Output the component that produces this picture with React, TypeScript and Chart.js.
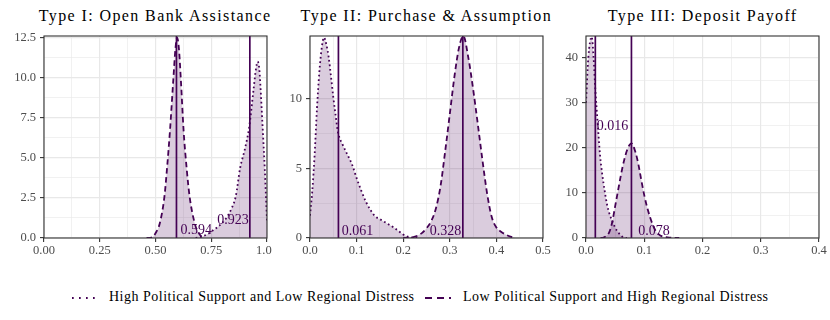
import React, { useEffect, useRef } from "react";
import { Chart, registerables } from "chart.js";
Chart.register(...registerables);

const PURPLE = "#440154";
const FILL = "rgba(68,1,84,0.2)";
const SERIF = "'Liberation Serif', 'Times New Roman', serif";

const titles = [
  "Type I: Open Bank Assistance",
  "Type II: Purchase & Assumption",
  "Type III: Deposit Payoff",
];
const legendLabels = [
  "High Political Support and Low Regional Distress",
  "Low Political Support and High Regional Distress",
];

// ---------- Panel I ----------
const p1HighX = [0.68, 0.70, 0.72, 0.74, 0.76, 0.78, 0.80, 0.82, 0.84, 0.86, 0.88, 0.90, 0.92, 0.94, 0.95, 0.958, 0.965, 0.97, 0.98, 0.99, 1.0];
const p1HighY = [0, 0.05, 0.15, 0.3, 0.5, 0.7, 0.95, 1.3, 1.8, 2.6, 4.4, 5.5, 6.9, 9.3, 10.5, 11.0, 10.6, 9.6, 7.0, 4.3, 1.1];
const p1LowX = [0.46, 0.485, 0.50, 0.519, 0.540, 0.552, 0.565, 0.580, 0.590, 0.597, 0.605, 0.614, 0.626, 0.640, 0.653, 0.676, 0.69, 0.709, 0.72];
const p1LowY = [0, 0.05, 0.3, 0.91, 2.58, 4.4, 6.7, 9.9, 11.9, 12.5, 11.8, 9.8, 6.7, 4.3, 2.58, 0.91, 0.4, 0.05, 0];
const p1Means = [0.594, 0.923];
const p1MeanText = ["0.594", "0.923"];
const p1LabelX = [0.683, 0.847];
const p1LabelY = [0.45, 1.12];

// ---------- Panel II ----------
const p2HighX = [0.0, 0.005, 0.01, 0.015, 0.02, 0.025, 0.03, 0.035, 0.04, 0.045, 0.05, 0.055, 0.06, 0.07, 0.08, 0.09, 0.10, 0.11, 0.12, 0.13, 0.14, 0.15, 0.16, 0.17, 0.18, 0.19, 0.20, 0.21, 0.22, 0.23];
const p2HighY = [1.6, 3.4, 6.0, 9.3, 11.9, 13.6, 14.4, 13.9, 13.0, 11.6, 10.1, 8.8, 7.6, 6.7, 6.0, 5.3, 4.3, 3.4, 2.6, 2.0, 1.55, 1.35, 1.15, 0.95, 0.75, 0.5, 0.25, 0.1, 0.03, 0];
const p2LowX = [0.20, 0.22, 0.24, 0.25, 0.26, 0.27, 0.28, 0.29, 0.30, 0.31, 0.32, 0.329, 0.34, 0.35, 0.36, 0.37, 0.38, 0.39, 0.40, 0.41, 0.42, 0.43, 0.44];
const p2LowY = [0, 0.05, 0.35, 0.7, 1.2, 2.1, 3.7, 6.2, 8.9, 11.6, 13.7, 14.5, 12.9, 10.7, 8.2, 5.6, 3.2, 1.5, 0.75, 0.45, 0.25, 0.1, 0];
const p2Means = [0.061, 0.328];
const p2MeanText = ["0.061", "0.328"];
const p2LabelX = [0.102, 0.291];
const p2LabelY = [0.5, 0.5];

// ---------- Panel III ----------
const p3HighX = [0.0, 0.004, 0.0098, 0.013, 0.016, 0.020, 0.024, 0.028, 0.032, 0.036, 0.040, 0.045, 0.050, 0.055, 0.060, 0.065, 0.070];
const p3HighY = [30, 40, 44.6, 40, 33, 25.5, 18.5, 14, 10.5, 7.5, 5.5, 3.8, 2.3, 1.3, 0.5, 0.15, 0];
const p3LowX = [0.025, 0.030, 0.035, 0.040, 0.045, 0.050, 0.055, 0.060, 0.065, 0.070, 0.075, 0.078, 0.085, 0.090, 0.095, 0.100, 0.105, 0.110, 0.115, 0.120, 0.125, 0.130, 0.140, 0.150, 0.160];
const p3LowY = [0, 0.1, 0.5, 1.3, 3.5, 7.0, 10.5, 14.0, 17.0, 19.3, 20.7, 21.0, 19.0, 16.3, 12.8, 9.5, 6.8, 4.6, 2.8, 1.5, 0.8, 0.4, 0.15, 0.05, 0];
const p3Means = [0.016, 0.078];
const p3MeanText = ["0.016", "0.078"];
const p3LabelX = [0.0457, 0.1166];
const p3LabelY = [24.7, 1.5];

// axis settings (range, major step, decimals)
const xMaxes = [1.0, 0.5, 0.4];
const xSteps = [0.25, 0.1, 0.1];
const xDecimals = [2, 1, 1];
const yMaxes = [12.6, 14.5, 44.8];
const ySteps = [2.5, 5, 10];
const yDecimals = [1, 0, 0];

const panels = [
  { highX: p1HighX, highY: p1HighY, lowX: p1LowX, lowY: p1LowY, means: p1Means, text: p1MeanText, lx: p1LabelX, ly: p1LabelY },
  { highX: p2HighX, highY: p2HighY, lowX: p2LowX, lowY: p2LowY, means: p2Means, text: p2MeanText, lx: p2LabelX, ly: p2LabelY },
  { highX: p3HighX, highY: p3HighY, lowX: p3LowX, lowY: p3LowY, means: p3Means, text: p3MeanText, lx: p3LabelX, ly: p3LabelY },
];

// layout (pixels)
const layout = [
  { left: 0, width: 272, yAxisW: 44, padR: 5 },
  { left: 272, width: 285, yAxisW: 38, padR: 14 },
  { left: 547, width: 283, yAxisW: 39, padR: 11 },
];
const CANVAS_TOP = 24;
const CANVAS_H = 236;
const PAD_TOP = 12;
const XAXIS_H = 22;

function zip(xs: number[], ys: number[]) {
  return xs.map((x, i) => ({ x, y: ys[i] }));
}

function Panel({ idx }: { idx: number }) {
  const ref = useRef<HTMLCanvasElement | null>(null);
  const L = layout[idx];
  useEffect(() => {
    const p = panels[idx];
    const yMax = yMaxes[idx];
    const meanSets = p.means.map((m) => ({
      data: [
        { x: m, y: 0 },
        { x: m, y: yMax },
      ],
      borderColor: PURPLE,
      borderWidth: 1.7,
      fill: false,
      pointRadius: 0,
    }));
    const overlay = {
      id: "overlay" + idx,
      afterDraw(chart: any) {
        const { ctx, chartArea: a } = chart;
        const xs = chart.scales.x;
        const ys = chart.scales.y;
        ctx.save();
        ctx.font = `14px ${SERIF}`;
        ctx.fillStyle = PURPLE;
        ctx.textAlign = "center";
        ctx.textBaseline = "middle";
        p.text.forEach((t, i) => {
          ctx.fillText(t, xs.getPixelForValue(p.lx[i]), ys.getPixelForValue(p.ly[i]));
        });
        ctx.strokeStyle = "#333333";
        ctx.lineWidth = 1.1;
        ctx.strokeRect(a.left, a.top, a.right - a.left, a.bottom - a.top);
        ctx.restore();
      },
    };
    const tickFont = { family: SERIF, size: 12.5 };
    const chart = new Chart(ref.current as HTMLCanvasElement, {
      type: "line",
      data: {
        datasets: [
          {
            data: zip(p.highX, p.highY),
            borderColor: PURPLE,
            borderWidth: 1.8,
            borderDash: [1.7, 2.8],
            backgroundColor: FILL,
            fill: "origin",
            pointRadius: 0,
            cubicInterpolationMode: "monotone",
          },
          {
            data: zip(p.lowX, p.lowY),
            borderColor: PURPLE,
            borderWidth: 1.8,
            borderDash: [5.5, 3.5],
            backgroundColor: FILL,
            fill: "origin",
            pointRadius: 0,
            cubicInterpolationMode: "monotone",
          },
          ...meanSets,
        ],
      } as any,
      options: {
        animation: false,
        responsive: false,
        events: [],
        layout: { padding: { top: PAD_TOP, right: L.padR, left: 0, bottom: 0 } },
        plugins: { legend: { display: false }, tooltip: { enabled: false }, title: { display: false } },
        scales: {
          x: {
            type: "linear",
            min: 0,
            max: xMaxes[idx],
            border: { display: false },
            grid: {
              color: "#e8e8e8",
              lineWidth: (c: any) => (c.index % 2 === 0 ? 1.2 : 0.6),
              tickColor: (c: any) => (c.index % 2 === 0 ? "#333333" : "rgba(0,0,0,0)"),
              tickLength: 4,
              tickWidth: 1.1,
            },
            ticks: {
              stepSize: xSteps[idx] / 2,
              autoSkip: false,
              includeBounds: false,
              maxRotation: 0,
              minRotation: 0,
              padding: 1,
              color: "#4d4d4d",
              font: tickFont,
              callback: (v: any, i: number) => (i % 2 === 0 ? Number(v).toFixed(xDecimals[idx]) : ""),
            },
            afterFit: (s: any) => {
              s.height = XAXIS_H;
              s.paddingLeft = 0;
              s.paddingRight = 0;
            },
          },
          y: {
            type: "linear",
            min: 0,
            max: yMax,
            border: { display: false },
            grid: {
              color: "#e8e8e8",
              lineWidth: (c: any) => (c.index % 2 === 0 ? 1.2 : 0.6),
              tickColor: (c: any) => (c.index % 2 === 0 ? "#333333" : "rgba(0,0,0,0)"),
              tickLength: 4,
              tickWidth: 1.1,
            },
            ticks: {
              stepSize: ySteps[idx] / 2,
              autoSkip: false,
              includeBounds: false,
              padding: 4,
              color: "#4d4d4d",
              font: tickFont,
              callback: (v: any, i: number) => (i % 2 === 0 ? Number(v).toFixed(yDecimals[idx]) : ""),
            },
            afterFit: (s: any) => {
              s.width = L.yAxisW;
              s.paddingTop = 0;
              s.paddingBottom = 0;
            },
          },
        },
      } as any,
      plugins: [overlay],
    });
    return () => chart.destroy();
  }, []);
  return (
    <canvas
      ref={ref}
      width={L.width}
      height={CANVAS_H}
      style={{ position: "absolute", left: L.left, top: CANVAS_TOP, width: L.width, height: CANVAS_H }}
    />
  );
}

const plotBounds = [
  [43.5, 266.7],
  [310, 542.7],
  [586, 819.3],
];

export default function App() {
  return (
    <div
      style={{
        position: "fixed",
        left: 0,
        top: 0,
        width: 830,
        height: 320,
        background: "#ffffff",
        overflow: "hidden",
        fontFamily: SERIF,
      }}
    >
      {titles.map((t, i) => (
        <div
          key={t}
          style={{
            position: "absolute",
            left: plotBounds[i][0] - 20,
            width: plotBounds[i][1] - plotBounds[i][0] + 40,
            top: 6,
            lineHeight: "20px",
            fontSize: 16,
            letterSpacing: "1.4px",
            textAlign: "center",
            color: "#000",
            whiteSpace: "nowrap",
          }}
        >
          {t}
        </div>
      ))}
      {[0, 1, 2].map((i) => (
        <Panel key={i} idx={i} />
      ))}
      <svg style={{ position: "absolute", left: 70, top: 290 }} width={30} height={16}>
        <line x1={2} y1={8} x2={28} y2={8} stroke={PURPLE} strokeWidth={1.8} strokeDasharray="1.7 5.3" />
      </svg>
      <svg style={{ position: "absolute", left: 423, top: 290 }} width={30} height={16}>
        <line x1={2} y1={8} x2={28} y2={8} stroke={PURPLE} strokeWidth={2} strokeDasharray="7 5" />
      </svg>
      <div style={{ position: "absolute", left: 109, top: 287, lineHeight: "20px", fontSize: 14, letterSpacing: "0.5px", whiteSpace: "nowrap", color: "#000" }}>
        {legendLabels[0]}
      </div>
      <div style={{ position: "absolute", left: 463, top: 287, lineHeight: "20px", fontSize: 14, letterSpacing: "0.5px", whiteSpace: "nowrap", color: "#000" }}>
        {legendLabels[1]}
      </div>
    </div>
  );
}
